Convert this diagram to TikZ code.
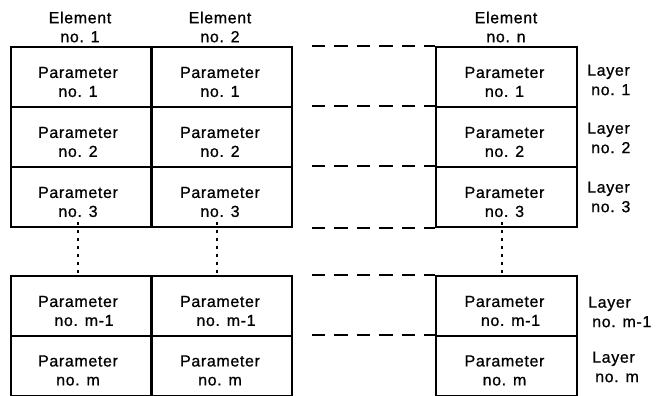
\documentclass[tikz,border=0pt]{standalone}
\usepackage{fontspec}
\setmainfont{Liberation Sans}[LetterSpace=4,FakeBold=0.8]
\begin{document}
\begin{tikzpicture}[x=1pt,y=-1pt,
  cell/.style={draw, line width=1.6pt, minimum width=141pt, minimum height=60pt, inner sep=0pt},
  txt/.style={font=\fontsize{16}{19}\selectfont, align=center, inner sep=0pt},
  ltxt/.style={font=\fontsize{16}{19.5}\selectfont, align=left, anchor=west, inner sep=0pt},
  dsh/.style={line width=1.6pt, dash pattern=on 13.5pt off 9pt, shorten <=19pt},
  dotln/.style={line width=2pt, dash pattern=on 3pt off 5pt}]
\useasboundingbox (0,0) rectangle (664,396);
% cells
\foreach \c/\x in {1/81.5,2/221.5,3/506.5}{
  \foreach \r/\y in {1/77,2/137,3/197,4/306,5/365.5}{
    \node[cell] (c\r\c) at (\x,\y) {};
  }
}
% column headers
\node[txt] (e1) at (80,27) {Element\\no. 1};
\node[txt] (e2) at (220,27) {Element\\no. 2};
\node[txt] (en) at (506,27) {Element\\no. n};
% parameter texts
\foreach \c/\x in {1/78,2/220,3/504.5}{
  \node[txt] (p1\c) at (\x,82) {Parameter\\no. 1};
  \node[txt] (p2\c) at (\x,142) {Parameter\\no. 2};
  \node[txt] (p3\c) at (\x,202) {Parameter\\no. 3};
  \node[txt] (p4\c) at (\x,311) {Parameter\\\hspace*{12pt}no. m-1};
  \node[txt] (p5\c) at (\x,370.5) {Parameter\\no. m};
}
% layer labels
\node[ltxt] (l1) at (587,80) {Layer\\\hspace*{4pt}no. 1};
\node[ltxt] (l2) at (587,138) {Layer\\\hspace*{4pt}no. 2};
\node[ltxt] (l3) at (587,197) {Layer\\\hspace*{4pt}no. 3};
\node[ltxt] (l4) at (588,312) {Layer\\\hspace*{4pt}no. m-1};
\node[ltxt] (l5) at (592,367) {Layer\\\hspace*{3pt}no. m};
% dashed continuation lines
\foreach \r in {1,2,3,4,5}{
  \draw[dsh] (c\r2.north east) -- (c\r3.north west);
}
\draw[dsh] (c32.south east) -- (c33.south west);
\draw[dsh] (c52.south east) -- (c53.south west);
% dotted vertical gaps
\draw[dotln] ([xshift=-3.5pt,yshift=6pt]c31.south) -- ([xshift=-3.5pt]c41.north);
\draw[dotln] ([xshift=-4.5pt,yshift=6pt]c32.south) -- ([xshift=-4.5pt]c42.north);
\draw[dotln] ([xshift=-4.5pt,yshift=6pt]c33.south) -- ([xshift=-4.5pt]c43.north);
\end{tikzpicture}
\end{document}
